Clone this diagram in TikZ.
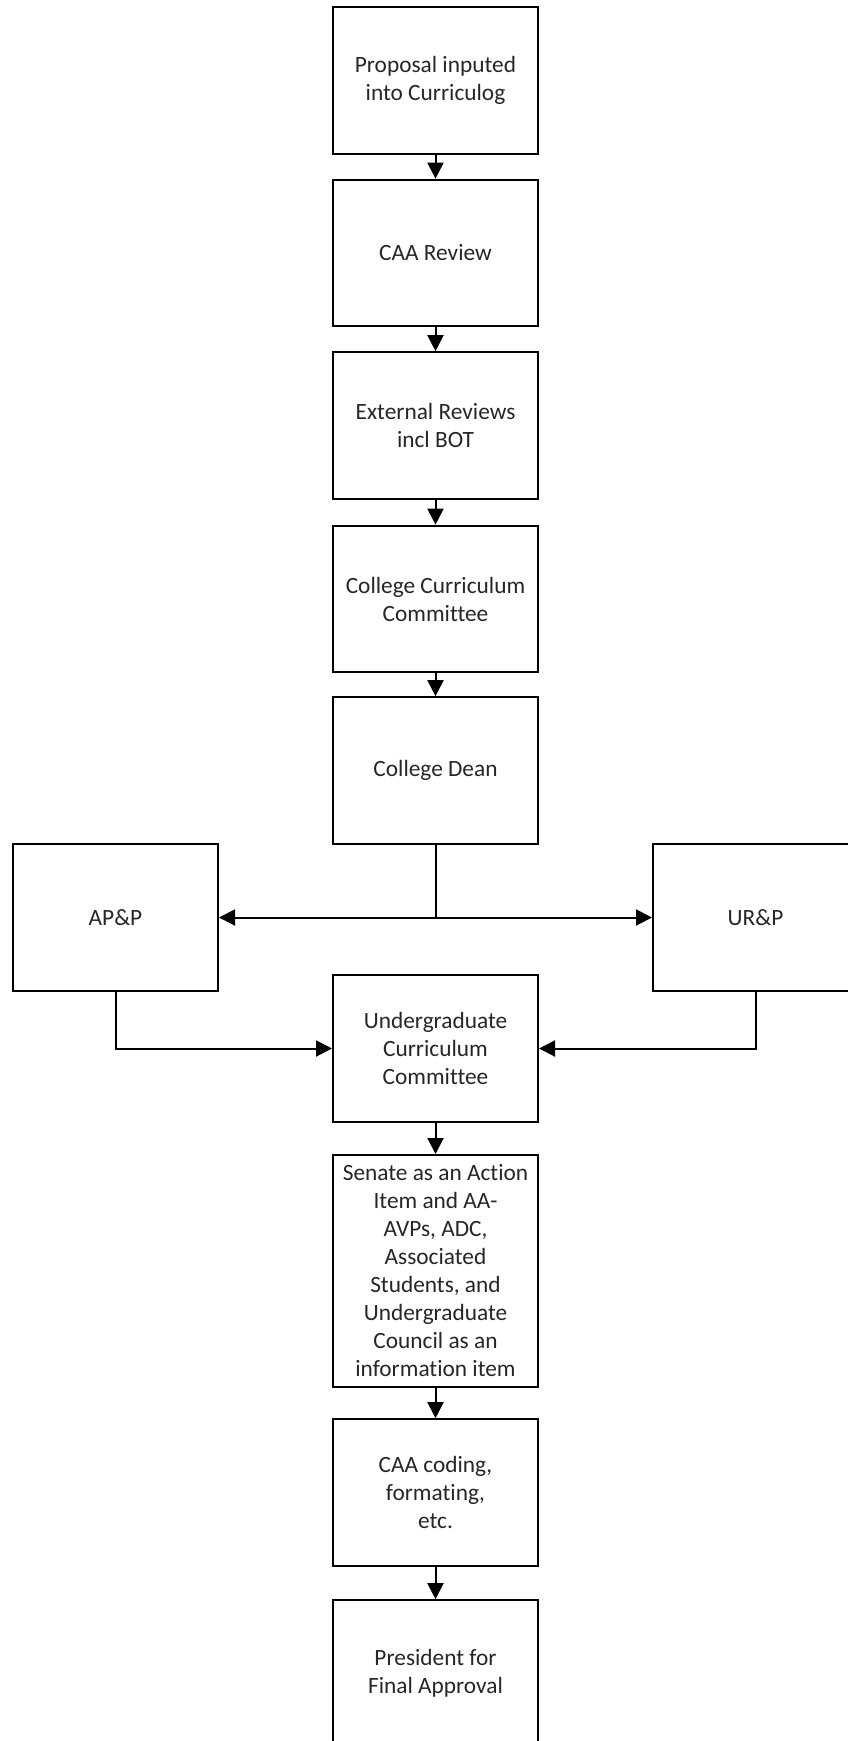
\documentclass[tikz,border=0pt]{standalone}
\usepackage{fontspec}
\setmainfont{Carlito}[Ligatures=NoCommon]
\usetikzlibrary{arrows.meta}
\begin{document}
\begin{tikzpicture}[x=0.75pt,y=-0.75pt,
  box/.style={draw=black,line width=1.5pt,minimum width=153.75pt,minimum height=110pt,inner sep=2pt,
    align=center,text=black!85,font=\fontsize{17.5}{21}\selectfont},
  conn/.style={line width=1.5pt,-{Triangle[length=12pt,width=12pt]}},
  plain/.style={line width=1.5pt}]
\useasboundingbox (0,0) rectangle (847,1741);
\node[box] (b1) at (435.5,80.5) {Proposal inputed\\into Curriculog};
\node[box] (b2) at (435.5,253) {CAA Review};
\node[box] (b3) at (435.5,425.5) {External Reviews\\incl BOT};
\node[box] (b4) at (435.5,599) {College Curriculum\\Committee};
\node[box] (b5) at (435.5,770.5) {College Dean};
\node[box] (ap) at (115.5,917.5) {AP\&P};
\node[box] (ur) at (755.5,917.5) {UR\&P};
\node[box] (ucc) at (435.5,1048.5) {Undergraduate\\Curriculum\\Committee};
\node[box,minimum height=174pt] (sen) at (435.5,1271) {Senate as an Action\\Item and AA-\\AVPs, ADC,\\Associated\\Students, and\\Undergraduate\\Council as an\\information item};
\node[box] (caa) at (435.5,1492.5) {CAA coding,\\formating,\\etc.};
\node[box] (pres) at (435.5,1673.5) {President for\\Final Approval};
\coordinate (j) at (435.5,917.5);
\draw[conn] (b1) -- (b2);
\draw[conn] (b2) -- (b3);
\draw[conn] (b3) -- (b4);
\draw[conn] (b4) -- (b5);
\draw[plain] (b5.south) -- (j);
\draw[conn] (j) -- (ap.east);
\draw[conn] (j) -- (ur.west);
\draw[conn] (ap.south) |- (ucc.west);
\draw[conn] (ur.south) |- (ucc.east);
\draw[conn] (ucc) -- (sen);
\draw[conn] (sen) -- (caa);
\draw[conn] (caa) -- (pres);
\end{tikzpicture}
\end{document}
